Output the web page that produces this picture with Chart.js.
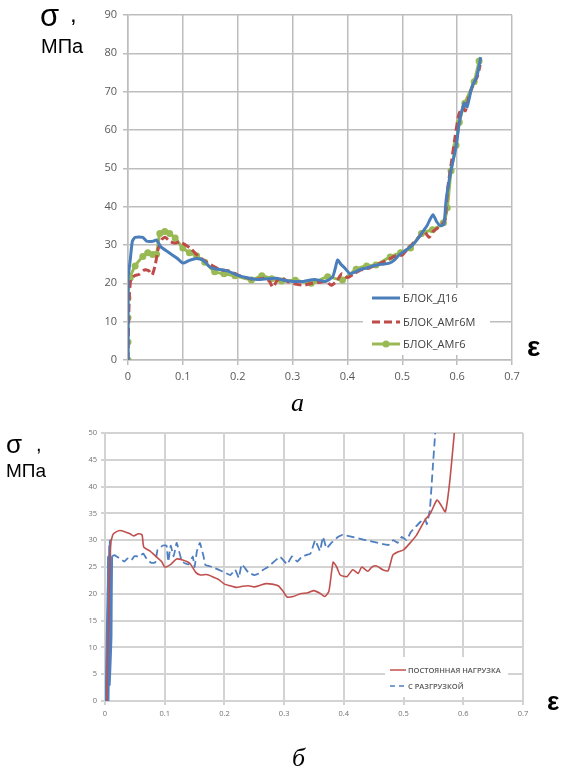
<!DOCTYPE html>
<html>
<head>
<meta charset="utf-8">
<script src="https://cdn.jsdelivr.net/npm/chart.js@4/dist/chart.umd.min.js"></script>
<style>
  body { margin: 0; background: #fff; width: 563px; height: 769px; position: relative; overflow: hidden; }
  canvas { position: absolute; left: 0; }
  .lbl { position: absolute; line-height: 1; white-space: nowrap; color: #000; }
  .sans { font-family: "Liberation Sans", Arial, sans-serif; }
  .cap { font-family: "Liberation Serif", "Times New Roman", serif; font-style: italic; }
</style>
</head>
<body>
<canvas id="chartA" width="563" height="400" style="top:0"></canvas>
<canvas id="chartB" width="563" height="369" style="top:400px"></canvas>

<div class="lbl sans" style="left:40px;top:0px;font-size:31px">σ</div>
<div class="lbl sans" style="left:70px;top:2px;font-size:24px">,</div>
<div class="lbl sans" style="left:41px;top:36px;font-size:20px">МПа</div>
<div class="lbl sans" style="left:527px;top:333px;font-size:28px;font-weight:bold">ε</div>
<div class="lbl cap" style="left:291px;top:390px;font-size:26px">а</div>

<div class="lbl sans" style="left:6px;top:431px;font-size:26px">σ</div>
<div class="lbl sans" style="left:36px;top:434px;font-size:20px">,</div>
<div class="lbl sans" style="left:6px;top:461px;font-size:19px">МПа</div>
<div class="lbl sans" style="left:547px;top:688px;font-size:26px;font-weight:bold">ε</div>
<div class="lbl cap" style="left:292px;top:745px;font-size:26px">б</div>

<script>
// ---- chart а ----
var d16Strain = [0,0,0.004,0.008,0.013,0.027,0.034,0.046,0.052,0.06,0.073,0.089,0.1,0.112,0.125,0.137,0.149,0.158,0.173,0.182,0.198,0.215,0.235,0.255,0.27,0.285,0.3,0.32,0.34,0.36,0.373,0.378,0.382,0.388,0.395,0.405,0.415,0.425,0.435,0.445,0.455,0.465,0.475,0.485,0.495,0.505,0.515,0.525,0.535,0.545,0.55,0.556,0.563,0.57,0.576,0.58,0.589,0.598,0.604,0.613,0.618,0.627,0.636,0.643];
var d16Stress = [0,21,26,31,32,32,31,31,31.3,29.5,28.2,26.6,25.3,26,26.5,26,24.3,23.8,23.5,23.2,22.2,21.5,21,21.2,21.3,20.8,20.5,20.5,21,20.5,21.7,24,26.1,25,24,22.5,23,23.7,24,24.5,24.8,25,25.2,26,27.5,28.5,29.5,31,33,35,36.5,37.9,36,35,35.5,41.8,49.6,55.6,62,67,66,71.3,74,79];

var amg6mStrain = [0,0.002,0.005,0.012,0.02,0.03,0.038,0.044,0.05,0.055,0.062,0.068,0.076,0.085,0.095,0.105,0.115,0.125,0.14,0.155,0.17,0.185,0.2,0.215,0.23,0.25,0.258,0.264,0.272,0.28,0.29,0.305,0.32,0.335,0.35,0.362,0.37,0.38,0.39,0.4,0.412,0.425,0.44,0.455,0.47,0.485,0.5,0.51,0.52,0.53,0.54,0.549,0.556,0.565,0.573,0.578,0.583,0.59,0.596,0.603,0.61,0.615,0.622,0.63,0.637,0.642];
var amg6mStress = [0,15,21,22,22.3,23.5,23.3,22.2,25,29,31.5,32,31,30.5,30.8,30,29,27.5,25.8,24.5,23.5,23.2,22.2,21.5,21,21.3,20.5,19,20.8,21.5,20.5,19.8,19.5,20,20.3,20.5,19.5,20.5,22.5,21.5,22.5,23.5,24,25,25.8,27,27.4,29,30.5,32,33.5,32,33.5,34.5,35.5,36.5,45,52,58,64,66,65,69,72,74,77];

var amg6Strain = [0,0,0,0,0.004,0.013,0.027,0.036,0.045,0.052,0.058,0.067,0.076,0.086,0.1,0.112,0.125,0.14,0.158,0.175,0.195,0.225,0.244,0.262,0.28,0.305,0.334,0.364,0.391,0.416,0.435,0.452,0.478,0.497,0.515,0.535,0.555,0.575,0.582,0.589,0.598,0.604,0.614,0.631,0.64];
var amg6Stress = [0,4.7,11,16.2,21.4,24.5,27,28,27.5,27.6,33,33.5,33,31.8,29.2,28,27.2,25.5,23,22.5,22,20.9,22,21.2,20.6,20.8,20,21.7,20.9,23.7,24.5,24.8,26.9,28,29.2,33,34,35.8,39.7,49.4,56,62,67,72.6,78];

var namesA = ['БЛОК_Д16', 'БЛОК_АМг6М', 'БЛОК_АМг6'];
var stressTicksA = [0, 10, 20, 30, 40, 50, 60, 70, 80, 90];

// ---- chart б ----
var constStrain = [0.003,0.006,0.009,0.013,0.018,0.025,0.035,0.042,0.048,0.056,0.062,0.065,0.075,0.085,0.095,0.1,0.11,0.12,0.13,0.142,0.152,0.16,0.17,0.18,0.19,0.2,0.21,0.22,0.23,0.24,0.25,0.26,0.27,0.28,0.29,0.298,0.305,0.315,0.327,0.34,0.35,0.36,0.368,0.375,0.382,0.388,0.394,0.405,0.415,0.424,0.43,0.44,0.447,0.455,0.465,0.474,0.482,0.49,0.5,0.511,0.522,0.536,0.545,0.556,0.564,0.57,0.577,0.585];
var constStress = [0,15,28.7,31,31.5,31.8,31.5,31.2,30.8,31.2,31,28.7,28,27,26,25,25.5,26.5,26.3,25.7,24,23.5,23.6,23.2,22.7,21.8,21.5,21.2,21.4,21.5,21.3,21.6,21.9,21.8,21.5,20.5,19.4,19.5,20,20.2,20.6,20.1,19.5,20.5,25.9,25,23.5,23.2,24.5,23.8,25,24.2,25,25.2,24.5,24.3,27.2,27.8,28.2,29.5,31,33.8,35,37.5,36.3,35.3,40.6,50];

var unloadStrain = [0.001,0.005,0.003,0.007,0.004,0.008,0.006,0.009,0.008,0.011,
  0.012,0.016,0.022,0.027,0.032,0.038,0.044,0.049,0.055,0.06,0.064,0.07,0.077,0.084,0.088,0.097,0.103,0.106,0.11,0.115,
  0.12,0.129,0.14,0.147,0.15,0.154,0.159,0.165,0.168,0.18,0.19,0.2,0.21,0.218,0.224,0.229,0.24,0.25,0.258,0.265,
  0.273,0.293,0.305,0.313,0.322,0.33,0.344,0.352,0.36,0.365,0.371,0.379,0.39,0.398,0.474,0.483,0.49,0.497,0.505,0.512,
  0.528,0.536,0.539,0.544,0.549,0.553,0.556];
var unloadStress = [0,27,0,29,0,30,0,29.5,3,12,
  27,27.2,26.8,26.5,26,26.6,26.2,27,27,27.2,27.5,26.5,25.8,25.8,28.2,29,29,26,29,27,
  29.5,26,25.5,27,25,28,29.5,27,25.4,25,24.5,24,23.5,24.5,23,25.5,24,23.5,23.8,24.5,
  25,26.9,25.5,27,26,27,27.5,30,28,30.6,28.5,29.5,30.6,31,29.1,30,29.5,30.6,30,31.5,
  33.4,34,33,35.6,43.7,50,55];
var loopPoints = 10; // first segments drawn solid (loading/unloading loop)

var namesB = ['ПОСТОЯННАЯ НАГРУЗКА', 'С РАЗГРУЗКОЙ'];
var strainTicks = [0, 0.1, 0.2, 0.3, 0.4, 0.5, 0.6, 0.7];

function pairs(xs, ys) {
  return xs.map(function(x, i) { return { x: x, y: ys[i] }; });
}

// legend drawn inside the plot, on a white box
var boxLegend = {
  id: 'boxLegend',
  afterDatasetsDraw: function(chart, args, opts) {
    var ctx = chart.ctx, a = chart.chartArea;
    var bx = a.right - opts.fromRight, by = a.bottom - opts.fromBottom;
    ctx.save();
    ctx.fillStyle = '#fff';
    ctx.fillRect(bx, by, opts.w, opts.h);
    ctx.font = opts.font;
    ctx.textBaseline = 'middle';
    opts.rows.forEach(function(r, i) {
      var y = by + opts.rowY[i];
      ctx.strokeStyle = r.color;
      ctx.lineWidth = r.width;
      ctx.setLineDash(r.dash || []);
      ctx.beginPath();
      ctx.moveTo(bx + opts.lineX[0], y);
      ctx.lineTo(bx + opts.lineX[1], y);
      ctx.stroke();
      ctx.setLineDash([]);
      if (r.point) {
        ctx.fillStyle = r.color;
        ctx.beginPath();
        ctx.arc(bx + (opts.lineX[0] + opts.lineX[1]) / 2, y, r.point, 0, Math.PI * 2);
        ctx.fill();
      }
      ctx.fillStyle = opts.textColor;
      ctx.fillText(r.text, bx + opts.textX, y + 0.5);
    });
    ctx.restore();
  }
};

var blue = '#4a7ebb', red = '#be4b48', green = '#98b954';

new Chart(document.getElementById('chartA'), {
  type: 'line',
  data: {
    datasets: [
      { label: namesA[0], data: pairs(d16Strain, d16Stress), borderColor: blue, borderWidth: 3, pointRadius: 0, tension: 0.2 },
      { label: namesA[1], data: pairs(amg6mStrain, amg6mStress), borderColor: red, borderWidth: 3, borderDash: [8, 4], pointRadius: 0, tension: 0.2 },
      { label: namesA[2], data: pairs(amg6Strain, amg6Stress), borderColor: green, backgroundColor: green, borderWidth: 3, pointRadius: 3.5, pointBorderWidth: 0, tension: 0.2 }
    ]
  },
  options: {
    responsive: false, animation: false, devicePixelRatio: 1,
    layout: { padding: { top: 15, right: 51, left: 0, bottom: 0 } },
    plugins: {
      legend: { display: false }, tooltip: { enabled: false },
      boxLegend: {
        fromRight: 149, fromBottom: 72, w: 127, h: 67,
        rowY: [10, 34, 56], lineX: [9, 37], textX: 40,
        font: '11px "Open Sans", sans-serif', textColor: '#404040',
        rows: [
          { text: namesA[0], color: blue, width: 3 },
          { text: namesA[1], color: red, width: 3, dash: [8, 4] },
          { text: namesA[2], color: green, width: 3, point: 3.5 }
        ]
      }
    },
    scales: {
      x: {
        type: 'linear', min: 0, max: 0.7,
        afterBuildTicks: function(s) { s.ticks = strainTicks.map(function(v) { return { value: v }; }); },
        afterFit: function(s) { s.height = 40; },
        grid: { color: '#bdbdbd', lineWidth: 1.5, tickLength: 5 },
        border: { color: '#bdbdbd', width: 1.5 },
        ticks: { color: '#595959', padding: 5, font: { family: 'Open Sans', size: 11 }, maxRotation: 0 }
      },
      y: {
        min: 0, max: 90,
        afterBuildTicks: function(s) { s.ticks = stressTicksA.map(function(v) { return { value: v }; }); },
        afterFit: function(s) { s.width = 128; },
        grid: { color: '#bdbdbd', lineWidth: 1.5, tickLength: 5 },
        border: { color: '#bdbdbd', width: 1.5 },
        ticks: { color: '#595959', padding: 6, font: { family: 'Open Sans', size: 11 } }
      }
    }
  },
  plugins: [boxLegend]
});

var stressTicksB = [0, 5, 10, 15, 20, 25, 30, 35, 40, 45, 50];
var blueB = '#4f7fc0', redB = '#c0504d';

new Chart(document.getElementById('chartB'), {
  type: 'line',
  data: {
    datasets: [
      { label: namesB[0], data: pairs(constStrain, constStress), borderColor: redB, borderWidth: 1.6, pointRadius: 0, tension: 0.2 },
      { label: namesB[1], data: pairs(unloadStrain, unloadStress), borderColor: blueB, borderWidth: 1.8, pointRadius: 0, tension: 0.1,
        borderDash: [8, 4],
        segment: { borderDash: function(c) { return c.p0DataIndex < loopPoints ? [] : [8, 4]; } } }
    ]
  },
  options: {
    responsive: false, animation: false, devicePixelRatio: 1,
    layout: { padding: { top: 33, right: 40, left: 0, bottom: 0 } },
    plugins: {
      legend: { display: false }, tooltip: { enabled: false },
      boxLegend: {
        fromRight: 138, fromBottom: 44, w: 123, h: 40,
        rowY: [13, 29], lineX: [5, 21], textX: 23,
        font: '600 7.5px "Open Sans", sans-serif', textColor: '#555',
        rows: [
          { text: namesB[0], color: redB, width: 1.5 },
          { text: namesB[1], color: blueB, width: 1.5, dash: [5, 4] }
        ]
      }
    },
    scales: {
      x: {
        type: 'linear', min: 0, max: 0.7,
        afterBuildTicks: function(s) { s.ticks = strainTicks.map(function(v) { return { value: v }; }); },
        afterFit: function(s) { s.height = 68; },
        grid: { color: '#d3d3d3', lineWidth: 2, tickLength: 4 },
        border: { color: '#d3d3d3', width: 2 },
        ticks: { color: '#707070', padding: 4, font: { family: 'Open Sans', size: 7.5 }, maxRotation: 0 }
      },
      y: {
        min: 0, max: 50,
        afterBuildTicks: function(s) { s.ticks = stressTicksB.map(function(v) { return { value: v }; }); },
        afterFit: function(s) { s.width = 105; },
        grid: { color: '#d3d3d3', lineWidth: 2, tickLength: 4 },
        border: { color: '#d3d3d3', width: 2 },
        ticks: { color: '#707070', padding: 4, font: { family: 'Open Sans', size: 7.5 } }
      }
    }
  },
  plugins: [boxLegend]
});
</script>
</body>
</html>
